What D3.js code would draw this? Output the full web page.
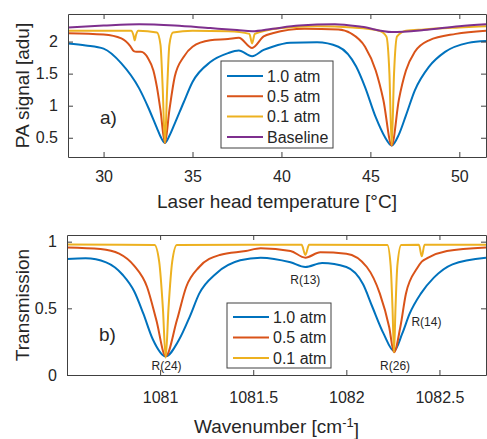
<!DOCTYPE html>
<html>
<head>
<meta charset="utf-8">
<script src="https://cdn.jsdelivr.net/npm/d3@7"></script>
<style>
  body { margin: 0; background: #fff; }
  svg text { font-family: "Liberation Sans", Arial, Helvetica, sans-serif; fill: #262626; }
</style>
</head>
<body>
<svg id="chart" width="487" height="439"></svg>
<script>
// --- panel a) PA signal vs laser head temperature ---
const tempBlue = [28, 29, 30, 31, 32, 32.5, 33, 33.2, 33.45, 33.7, 34, 34.5, 35, 36, 37, 37.6, 38.35, 39, 39.5, 40.5, 42, 43.2, 44.2, 44.7, 45.3, 45.8, 46.2, 46.6, 47, 47.5, 48.3, 49.2, 50.5, 51.5];
const sigBlue  = [1.97, 1.94, 1.89, 1.66, 1.27, 0.98, 0.65, 0.52, 0.42, 0.53, 0.72, 1.05, 1.37, 1.68, 1.82, 1.86, 1.77, 1.87, 1.92, 1.98, 1.99, 1.92, 1.61, 1.29, 0.82, 0.52, 0.38, 0.55, 0.85, 1.24, 1.61, 1.84, 1.98, 2.01];

const tempRed = [28, 30, 31, 31.5, 31.7, 31.85, 32.1, 32.5, 32.8, 33, 33.2, 33.45, 33.7, 34, 34.5, 35, 36, 37, 37.6, 38.35, 39, 39.5, 41.3, 43.2, 43.9, 44.7, 45.3, 45.73, 46.2, 46.6, 47, 47.5, 48.3, 49.8, 51.5];
const sigRed  = [2.13, 2.11, 2.05, 1.93, 1.85, 1.84, 1.84, 1.74, 1.55, 1.29, 0.93, 0.42, 0.93, 1.45, 1.76, 1.92, 2.02, 2.04, 2.06, 1.9, 2.08, 2.13, 2.2, 2.19, 2.13, 1.92, 1.55, 1.09, 0.38, 1.09, 1.55, 1.84, 2.02, 2.12, 2.17];

const tempYellow = [28, 30, 31.55, 31.68, 31.75, 31.82, 31.95, 33, 33.2, 33.32, 33.45, 33.58, 33.7, 33.9, 35, 37, 38.2, 38.35, 38.5, 40, 42, 44, 45.5, 45.9, 46.07, 46.2, 46.33, 46.5, 47, 48, 50, 51.5];
const sigYellow  = [2.17, 2.17, 2.17, 2.1, 2.02, 2.1, 2.17, 2.14, 1.95, 1.3, 0.42, 1.3, 1.95, 2.14, 2.17, 2.16, 2.12, 1.97, 2.12, 2.21, 2.24, 2.22, 2.17, 2.08, 1.5, 0.38, 1.5, 2.08, 2.17, 2.19, 2.22, 2.24];

const tempBase = [28, 30, 32, 34, 36, 37.5, 38.35, 39.5, 41, 43, 44.5, 46.2, 48, 50, 51.5];
const sigBase  = [2.22, 2.25, 2.27, 2.25, 2.21, 2.18, 2.16, 2.2, 2.25, 2.27, 2.23, 2.15, 2.18, 2.24, 2.27];

const tempTicks = [30, 35, 40, 45, 50];
const sigTicks = [0.5, 1, 1.5, 2];
const legendA = ['1.0 atm', '0.5 atm', '0.1 atm', 'Baseline'];

// --- panel b) transmission vs wavenumber ---
const wnBlue = [1080.5, 1080.6, 1080.71, 1080.8, 1080.86, 1080.91, 1080.96, 1081.03, 1081.1, 1081.16, 1081.21, 1081.3, 1081.43, 1081.54, 1081.7, 1081.78, 1081.87, 1082.0, 1082.09, 1082.14, 1082.2, 1082.256, 1082.3, 1082.34, 1082.4, 1082.47, 1082.57, 1082.75];
const trBlue = [0.87, 0.875, 0.845, 0.75, 0.63, 0.46, 0.27, 0.14, 0.26, 0.44, 0.61, 0.76, 0.86, 0.88, 0.845, 0.81, 0.84, 0.81, 0.68, 0.51, 0.31, 0.18, 0.31, 0.46, 0.61, 0.73, 0.83, 0.88];

const wnRed = [1080.5, 1080.68, 1080.78, 1080.86, 1080.93, 1080.98, 1081.03, 1081.09, 1081.14, 1081.21, 1081.32, 1081.46, 1081.54, 1081.7, 1081.78, 1081.86, 1082.0, 1082.11, 1082.18, 1082.23, 1082.256, 1082.29, 1082.32, 1082.38, 1082.405, 1082.44, 1082.54, 1082.75];
const trRed = [0.957, 0.945, 0.91, 0.82, 0.66, 0.41, 0.14, 0.41, 0.66, 0.81, 0.9, 0.93, 0.95, 0.93, 0.88, 0.92, 0.91, 0.81, 0.61, 0.36, 0.17, 0.36, 0.61, 0.8, 0.85, 0.88, 0.93, 0.957];

const wnYellow = [1080.5, 1080.97, 1080.995, 1081.015, 1081.03, 1081.045, 1081.065, 1081.09, 1081.76, 1081.78, 1081.8, 1082.22, 1082.238, 1082.248, 1082.256, 1082.264, 1082.274, 1082.295, 1082.39, 1082.405, 1082.42, 1082.75];
const trYellow = [0.978, 0.975, 0.85, 0.5, 0.13, 0.5, 0.85, 0.975, 0.977, 0.9, 0.977, 0.975, 0.82, 0.5, 0.17, 0.5, 0.82, 0.975, 0.976, 0.89, 0.976, 0.977];

const wnTicks = [1081, 1081.5, 1082, 1082.5];
const trTicks = [0, 0.5, 1];
const legendB = ['1.0 atm', '0.5 atm', '0.1 atm'];

const lineLabels = ['R(24)', 'R(13)', 'R(14)', 'R(26)'];
const lineLabelWn = [1081.035, 1081.78, 1082.43, 1082.262];
const lineLabelTr = [0.035, 0.68, 0.37, 0.035];

const COLORS = ['#0072BD', '#D95319', '#EDB120', '#7E2F8E'];
const AXIS = '#404040';

const svg = d3.select('#chart');

function drawPanel(p) {
  const x = d3.scaleLinear().domain(p.xDomain).range([p.left, p.right]);
  const y = d3.scaleLinear().domain(p.yDomain).range([p.bottom, p.top]);
  const g = svg.append('g');

  // clip
  g.append('clipPath').attr('id', p.id + '-clip')
    .append('rect')
    .attr('x', p.left).attr('y', p.top)
    .attr('width', p.right - p.left).attr('height', p.bottom - p.top);

  // lines
  const line = d3.line().x(d => x(d[0])).y(d => y(d[1])).curve(d3.curveMonotoneX);
  p.series.forEach((s, i) => {
    g.append('path')
      .datum(d3.zip(s.x, s.y))
      .attr('clip-path', `url(#${p.id}-clip)`)
      .attr('fill', 'none')
      .attr('stroke', COLORS[i])
      .attr('stroke-width', 2)
      .attr('stroke-linejoin', 'round')
      .attr('d', line);
  });

  // axes (box with inward ticks on all four sides)
  g.append('g')
    .attr('transform', `translate(0,${p.bottom})`)
    .call(d3.axisBottom(x).tickValues(p.xTicks).tickSize(-5).tickSizeOuter(0).tickPadding(p.xPad).tickFormat(d3.format('')));
  g.append('g')
    .attr('transform', `translate(${p.left},0)`)
    .call(d3.axisLeft(y).tickValues(p.yTicks).tickSize(-5).tickSizeOuter(0).tickPadding(10).tickFormat(d3.format('')));
  g.append('g')
    .attr('transform', `translate(0,${p.top})`)
    .call(d3.axisTop(x).tickValues(p.xTicks).tickSize(-5).tickSizeOuter(0).tickFormat(''));
  g.append('g')
    .attr('transform', `translate(${p.right},0)`)
    .call(d3.axisRight(y).tickValues(p.yTicks).tickSize(-5).tickSizeOuter(0).tickFormat(''));

  g.selectAll('.domain').attr('stroke', AXIS);
  g.selectAll('.tick line').attr('stroke', AXIS);
  g.selectAll('.tick text').attr('font-size', '16px').attr('fill', '#262626');
  g.selectAll('g').attr('font-family', null);

  // legend
  const lg = g.append('g');
  lg.append('rect')
    .attr('x', p.legend.x).attr('y', p.legend.y)
    .attr('width', p.legend.w).attr('height', p.legend.h)
    .attr('fill', '#fff').attr('stroke', AXIS).attr('stroke-width', 1);
  p.legend.labels.forEach((lab, i) => {
    const cy = p.legend.y + p.legend.row0 + i * p.legend.step;
    lg.append('line')
      .attr('x1', p.legend.x + p.legend.lx1).attr('x2', p.legend.x + p.legend.lx2)
      .attr('y1', cy).attr('y2', cy)
      .attr('stroke', COLORS[i]).attr('stroke-width', 2);
    lg.append('text')
      .attr('x', p.legend.x + p.legend.tx).attr('y', cy)
      .attr('dy', '0.35em')
      .attr('font-size', '16px')
      .text(lab);
  });

  // panel tag
  g.append('text')
    .attr('x', p.tag.x).attr('y', p.tag.y)
    .attr('font-size', '19px')
    .text(p.tag.text);

  // axis titles
  const xt = g.append('text')
    .attr('x', (p.left + p.right) / 2).attr('y', p.xTitleY)
    .attr('text-anchor', 'middle')
    .attr('font-size', '19px');
  p.xTitle(xt);

  g.append('text')
    .attr('transform', `translate(${p.yTitleX},${(p.top + p.bottom) / 2}) rotate(-90)`)
    .attr('text-anchor', 'middle')
    .attr('font-size', '19px')
    .text(p.yTitle);

  return { x, y, g };
}

drawPanel({
  id: 'a',
  left: 68, right: 486, top: 14, bottom: 157,
  xDomain: [28, 51.5], yDomain: [0.2, 2.43],
  xTicks: tempTicks, yTicks: sigTicks, xPad: 14,
  series: [
    { x: tempBlue, y: sigBlue },
    { x: tempRed, y: sigRed },
    { x: tempYellow, y: sigYellow },
    { x: tempBase, y: sigBase }
  ],
  legend: { x: 221, y: 61, w: 112, h: 87, row0: 15, step: 20.3, lx1: 6, lx2: 42, tx: 46, labels: legendA },
  tag: { x: 100, y: 124, text: 'a)' },
  xTitleY: 208,
  xTitle: t => t.text('Laser head temperature [°C]'),
  yTitleX: 29,
  yTitle: 'PA signal [adu]'
});

const b = drawPanel({
  id: 'b',
  left: 67, right: 486, top: 235, bottom: 375,
  xDomain: [1080.5, 1082.75], yDomain: [0, 1.05],
  xTicks: wnTicks, yTicks: trTicks, xPad: 17,
  series: [
    { x: wnBlue, y: trBlue },
    { x: wnRed, y: trRed },
    { x: wnYellow, y: trYellow }
  ],
  legend: { x: 227, y: 303, w: 104, h: 65, row0: 14, step: 20.5, lx1: 6, lx2: 42, tx: 46, labels: legendB },
  tag: { x: 99, y: 341, text: 'b)' },
  xTitleY: 433,
  xTitle: t => {
    t.append('tspan').text('Wavenumber [cm');
    t.append('tspan').attr('dy', '-0.45em').attr('font-size', '13px').text('-1');
    t.append('tspan').attr('dy', '0.45em').text(']');
  },
  yTitleX: 29,
  yTitle: 'Transmission'
});

// line assignments
b.g.selectAll('.linelabel')
  .data(lineLabels)
  .join('text')
  .attr('class', 'linelabel')
  .attr('x', (d, i) => b.x(lineLabelWn[i]))
  .attr('y', (d, i) => b.y(lineLabelTr[i]))
  .attr('text-anchor', 'middle')
  .attr('font-size', '12px')
  .text(d => d);
</script>
</body>
</html>
